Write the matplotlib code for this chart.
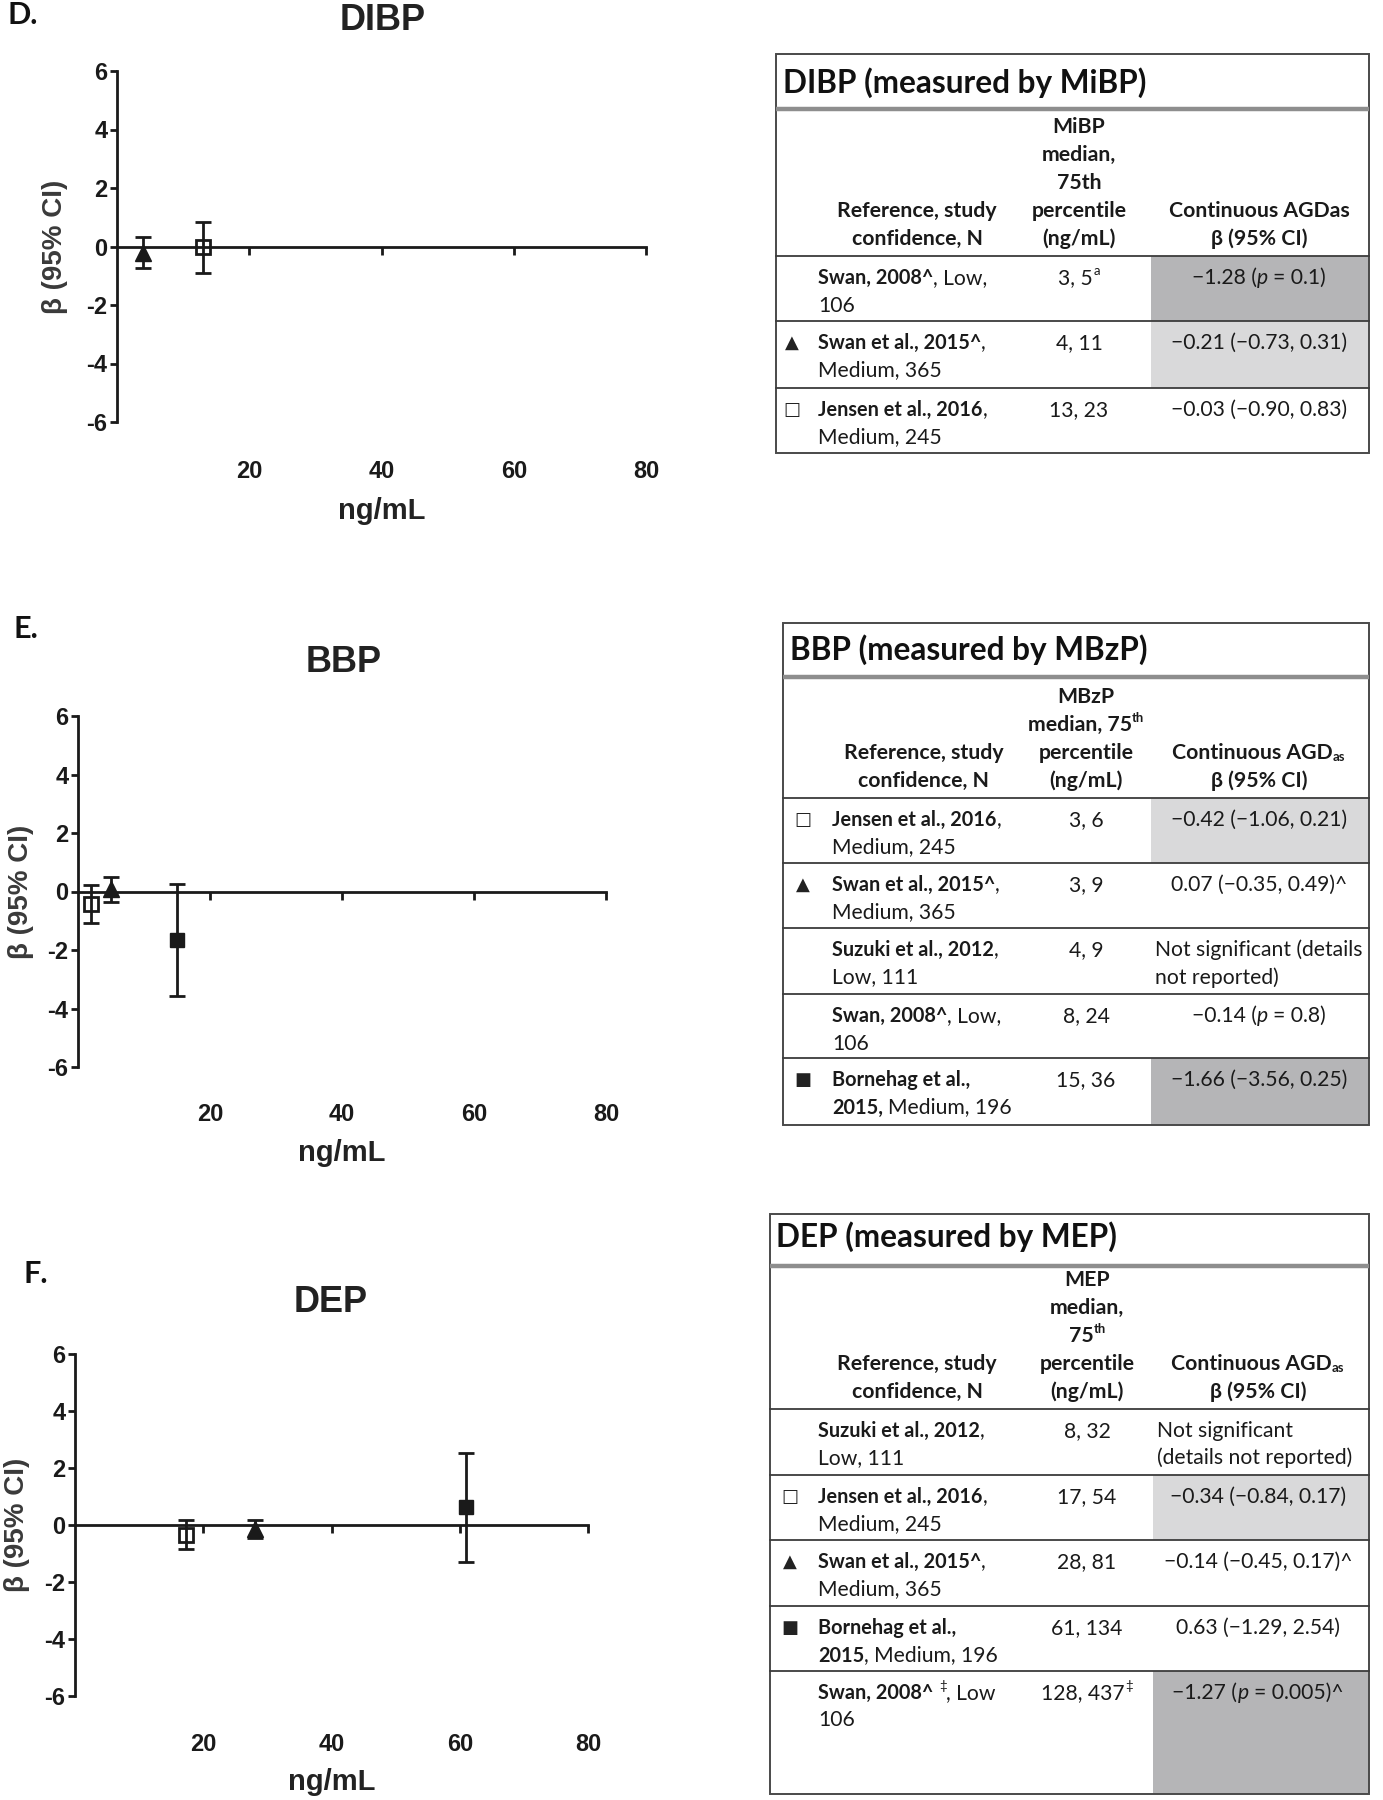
import matplotlib
matplotlib.use('agg')
import matplotlib.pyplot as plt
from matplotlib.patches import Rectangle

plt.rcParams['axes.unicode_minus'] = False

W, H = 1383, 1800
INK = '#1a1a1a'
PLOT_FONT = ['Liberation Sans', 'DejaVu Sans']
TAB_FONT = ['Lato', 'DejaVu Sans']
SHADES = {'dark': '#b5b5b7', 'light': '#d9d9da', '': None}

# ---- plot data: x = median (ng/mL), beta and 95% CI ----
dibp_x = [4, 13]
dibp_beta = [-0.21, -0.03]
dibp_lo = [-0.73, -0.90]
dibp_hi = [0.31, 0.83]
dibp_mark = ['tri', 'open']

bbp_x = [2, 5, 15]
bbp_beta = [-0.42, 0.07, -1.66]
bbp_lo = [-1.06, -0.35, -3.56]
bbp_hi = [0.21, 0.49, 0.25]
bbp_mark = ['open', 'tri', 'filled']

dep_x = [17.3, 28, 61]
dep_beta = [-0.34, -0.14, 0.63]
dep_lo = [-0.84, -0.45, -1.29]
dep_hi = [0.17, 0.17, 2.54]
dep_mark = ['open', 'tri', 'filled']

y_ticks = [-6, -4, -2, 0, 2, 4, 6]
x_ticks = [20, 40, 60, 80]

# ---- table data ----
head_ref = [[("Reference, study", 'b')], [("confidence, N", 'b')]]

dibp_title = "DIBP (measured by MiBP)"
dibp_head_conc = [[("MiBP", 'b')], [("median,", 'b')], [("75th", 'b')],
                  [("percentile", 'b')], [("(ng/mL)", 'b')]]
dibp_head_beta = [[("Continuous AGDas", 'b')], [("β (95% CI)", 'b')]]
dibp_sym = ['', '▲', '□']
dibp_refs = [
    [[("Swan, 2008^", 'b'), (", Low,", 'r')], [("106", 'r')]],
    [[("Swan et al., 2015^", 'b'), (",", 'r')], [("Medium, 365", 'r')]],
    [[("Jensen et al., 2016", 'b'), (",", 'r')], [("Medium, 245", 'r')]],
]
dibp_conc = [[("3, 5", 'r'), ("a", 'sup')], [("4, 11", 'r')], [("13, 23", 'r')]]
dibp_betatxt = [
    ([[("−1.28 (", 'r'), ("p", 'i'), (" = 0.1)", 'r')]], 'center'),
    ([[("−0.21 (−0.73, 0.31)", 'r')]], 'center'),
    ([[("−0.03 (−0.90, 0.83)", 'r')]], 'center'),
]
dibp_shade = ['dark', 'light', '']

bbp_title = "BBP (measured by MBzP)"
bbp_head_conc = [[("MBzP", 'b')], [("median, 75", 'b'), ("th", 'supb')],
                 [("percentile", 'b')], [("(ng/mL)", 'b')]]
bbp_head_beta = [[("Continuous AGD", 'b'), ("as", 'subb')], [("β (95% CI)", 'b')]]
bbp_sym = ['□', '▲', '', '', '■']
bbp_refs = [
    [[("Jensen et al., 2016", 'b'), (",", 'r')], [("Medium, 245", 'r')]],
    [[("Swan et al., 2015^", 'b'), (",", 'r')], [("Medium, 365", 'r')]],
    [[("Suzuki et al., 2012", 'b'), (",", 'r')], [("Low, 111", 'r')]],
    [[("Swan, 2008^", 'b'), (", Low,", 'r')], [("106", 'r')]],
    [[("Bornehag et al.,", 'b')], [("2015,", 'b'), (" Medium, 196", 'r')]],
]
bbp_conc = [[("3, 6", 'r')], [("3, 9", 'r')], [("4, 9", 'r')], [("8, 24", 'r')], [("15, 36", 'r')]]
bbp_betatxt = [
    ([[("−0.42 (−1.06, 0.21)", 'r')]], 'center'),
    ([[("0.07 (−0.35, 0.49)^", 'r')]], 'center'),
    ([[("Not significant (details", 'r')], [("not reported)", 'r')]], 'left'),
    ([[("−0.14 (", 'r'), ("p", 'i'), (" = 0.8)", 'r')]], 'center'),
    ([[("−1.66 (−3.56, 0.25)", 'r')]], 'center'),
]
bbp_shade = ['light', '', '', '', 'dark']

dep_title = "DEP (measured by MEP)"
dep_head_conc = [[("MEP", 'b')], [("median,", 'b')], [("75", 'b'), ("th", 'supb')],
                 [("percentile", 'b')], [("(ng/mL)", 'b')]]
dep_head_beta = [[("Continuous AGD", 'b'), ("as", 'subb')], [("β (95% CI)", 'b')]]
dep_sym = ['', '□', '▲', '■', '']
dep_refs = [
    [[("Suzuki et al., 2012", 'b'), (",", 'r')], [("Low, 111", 'r')]],
    [[("Jensen et al., 2016", 'b'), (",", 'r')], [("Medium, 245", 'r')]],
    [[("Swan et al., 2015^", 'b'), (",", 'r')], [("Medium, 365", 'r')]],
    [[("Bornehag et al.,", 'b')], [("2015", 'b'), (", Medium, 196", 'r')]],
    [[("Swan, 2008^", 'b'), (" ‡", 'sup'), (", Low", 'r')], [("106", 'r')]],
]
dep_conc = [[("8, 32", 'r')], [("17, 54", 'r')], [("28, 81", 'r')], [("61, 134", 'r')],
            [("128, 437", 'r'), ("‡", 'sup')]]
dep_betatxt = [
    ([[("Not significant", 'r')], [("(details not reported)", 'r')]], 'left'),
    ([[("−0.34 (−0.84, 0.17)", 'r')]], 'center'),
    ([[("−0.14 (−0.45, 0.17)^", 'r')]], 'center'),
    ([[("0.63 (−1.29, 2.54)", 'r')]], 'center'),
    ([[("−1.27 (", 'r'), ("p", 'i'), (" = 0.005)^", 'r')]], 'center'),
]
dep_shade = ['', 'light', '', '', 'dark']


fig = plt.figure(figsize=(W / 100, H / 100), dpi=100)
ov = fig.add_axes([0, 0, 1, 1])
ov.set_xlim(0, W)
ov.set_ylim(H, 0)
ov.axis('off')
rend = fig.canvas.get_renderer()

SIZE_R = 15.2   # regular body text
SIZE_B = 14.3   # bold body text
SIZE_H = 15.3   # bold header text


def style_kw(code, size_r, size_b):
    bold = code in ('b', 'supb', 'subb')
    kw = dict(fontsize=size_b if bold else size_r, family=TAB_FONT, color=INK)
    if bold:
        kw['fontweight'] = 'bold'
    if code == 'i':
        kw['fontstyle'] = 'italic'
    if code in ('sup', 'supb', 'sub', 'subb'):
        kw['fontsize'] = kw['fontsize'] * 0.62
    return kw


def text_w(t):
    return t.get_window_extent(renderer=rend).width


def space_w(size):
    a = ov.text(0, 0, "a a", fontsize=size, family=TAB_FONT)
    b = ov.text(0, 0, "aa", fontsize=size, family=TAB_FONT)
    w = text_w(a) - text_w(b)
    a.remove()
    b.remove()
    return w


SP = space_w(SIZE_R)


def runs(x, y, parts, ha='left', size_r=SIZE_R, size_b=SIZE_B):
    spx = size_r * 100 / 72
    items = []
    total = 0
    for s, code in parts:
        lead = (len(s) - len(s.lstrip(' '))) * SP
        s = s.strip(' ')
        dy = 0
        if code in ('sup', 'supb'):
            dy = -0.42 * spx
        elif code in ('sub', 'subb'):
            dy = 0.08 * spx
        t = ov.text(0, y + dy, s, va='baseline', ha='left', **style_kw(code, size_r, size_b))
        w = text_w(t)
        items.append((t, total + lead))
        total += lead + w
    x0 = x - total / 2 if ha == 'center' else x
    for t, off in items:
        t.set_x(x0 + off)


def table(x0, x1, ys, title, title_xy, cols, head_conc, head_beta,
          syms, refs, conc, betas, shades):
    top, t_bot, h_bot = ys[0], ys[1], ys[2]
    rows = ys[2:]
    # shaded cells
    for i, sh in enumerate(shades):
        if SHADES[sh]:
            ov.add_patch(Rectangle((cols['shade'], rows[i]), x1 - cols['shade'],
                                   rows[i + 1] - rows[i], fc=SHADES[sh], ec='none'))
    ov.add_patch(Rectangle((x0, top), x1 - x0, rows[-1] - top, fc='none',
                           ec='#4a4a4a', lw=1.4))
    ov.plot([x0, x1], [t_bot, t_bot], color='#8e8e8e', lw=3.2, solid_capstyle='butt')
    for r in rows[:-1]:
        ov.plot([x0, x1], [r, r], color='#3c3c3c', lw=1.3)
    ov.text(title_xy[0], title_xy[1], title, fontsize=22.7, fontweight='bold',
            family=TAB_FONT, color='#111111', va='center', ha='left')

    # header, bottom aligned
    base = h_bot - 11
    for lines, cx in ((head_ref, cols['head_ref']), (head_conc, cols['conc']),
                      (head_beta, cols['beta'])):
        n = len(lines)
        for k, line in enumerate(lines):
            runs(cx, base - (n - 1 - k) * 28, line, ha='center', size_b=SIZE_H)

    for i in range(len(refs)):
        rt = rows[i]
        b1 = rt + 28
        if syms[i]:
            ov.text(cols['sym'], rt + 22, syms[i], fontsize=13, family='DejaVu Sans',
                    fontweight='bold', color='#222222', ha='center', va='center')
        for k, line in enumerate(refs[i]):
            runs(cols['ref'], b1 + k * 27.5, line)
        runs(cols['conc'], b1, conc[i], ha='center')
        lines, ha = betas[i]
        for k, line in enumerate(lines):
            if ha == 'center':
                runs(cols['beta'], b1 + k * 27.5, line, ha='center')
            else:
                runs(cols['shade'] + 4, b1 + k * 27.5, line)


def panel(box, xs, beta, lo, hi, marks, title, title_xy, ylab_x, tick_pad, xlab_y):
    left, right, top, bottom = box
    ax = fig.add_axes([left / W, 1 - bottom / H, (right - left) / W, (bottom - top) / H])
    ax.set_xlim(0, 80)
    ax.set_ylim(-6, 6)
    for s in ('top', 'right'):
        ax.spines[s].set_visible(False)
    ax.spines['bottom'].set_position(('data', 0))
    ax.spines['left'].set_linewidth(2.0)
    ax.spines['bottom'].set_linewidth(2.0)
    ax.spines['left'].set_color(INK)
    ax.spines['bottom'].set_color(INK)
    ax.set_yticks(y_ticks)
    ax.set_xticks(x_ticks)
    ax.tick_params(axis='y', direction='out', length=5, width=2, color=INK, pad=2,
                   labelsize=17, labelcolor=INK)
    ax.tick_params(axis='x', direction='out', length=6, width=2, color=INK,
                   pad=tick_pad, labelsize=17, labelcolor=INK)
    for lab in ax.get_xticklabels() + ax.get_yticklabels():
        lab.set_family(PLOT_FONT)
        lab.set_fontweight('bold')
    styles = {'tri': dict(marker='^', ms=11, mfc=INK, mec=INK),
              'open': dict(marker='s', ms=9.5, mfc='none', mec=INK, mew=2),
              'filled': dict(marker='s', ms=9.5, mfc=INK, mec=INK)}
    for x, b, l, h, m in zip(xs, beta, lo, hi, marks):
        ax.errorbar([x], [b], yerr=[[b - l], [h - b]], fmt='none', ecolor=INK,
                    elinewidth=2, capsize=6, capthick=2, zorder=3, clip_on=False)
        ax.plot([x], [b], linestyle='none', zorder=4, clip_on=False, **styles[m])
    # panel title placed in pixel space
    fig.text(title_xy[0] / W, 1 - title_xy[1] / H, title, fontsize=26, fontweight='bold',
             family=PLOT_FONT, color='#222222', ha='center', va='center')
    ax.set_ylabel("β (95% CI)", fontsize=20, fontweight='bold', family=PLOT_FONT,
                  color='#3a3a3a')
    ax.yaxis.set_label_coords(ylab_x, 0.5)
    ax.yaxis.label.set_va('center')
    ax.set_xlabel("ng/mL", fontsize=21, fontweight='bold', family=PLOT_FONT, color='#222222')
    ax.xaxis.set_label_coords(0.5, xlab_y)
    ax.xaxis.label.set_va('center')
    return ax


# panel D
panel((117, 646, 71, 422), dibp_x, dibp_beta, dibp_lo, dibp_hi, dibp_mark,
      "DIBP", (383, 20), (55 - 117) / 529, 148, -0.254)
fig.text(8 / W, 1 - 15 / H, "D.", fontsize=22, fontweight='bold', family=TAB_FONT,
         color='#111111', va='center')
table(776, 1369, [54, 109, 256, 321, 388, 453], dibp_title, (783, 83),
      dict(sym=792, ref=818, head_ref=917, conc=1079, beta=1259, shade=1151),
      dibp_head_conc, dibp_head_beta, dibp_sym, dibp_refs, dibp_conc, dibp_betatxt,
      dibp_shade)

# panel E
panel((78, 606, 716, 1067), bbp_x, bbp_beta, bbp_lo, bbp_hi, bbp_mark,
      "BBP", (344, 662), (21 - 78) / 528, 146, -0.245)
fig.text(14 / W, 1 - 629 / H, "E.", fontsize=22, fontweight='bold', family=TAB_FONT,
         color='#111111', va='center')
table(783, 1369, [623, 677, 798, 863, 928, 994, 1058, 1125], bbp_title, (790, 650),
      dict(sym=803, ref=832, head_ref=924, conc=1086, beta=1259, shade=1151),
      bbp_head_conc, bbp_head_beta, bbp_sym, bbp_refs, bbp_conc, bbp_betatxt,
      bbp_shade)

# panel F
panel((75, 588, 1354, 1696), dep_x, dep_beta, dep_lo, dep_hi, dep_mark,
      "DEP", (331, 1303), (17 - 75) / 513, 144, -0.251)
fig.text(24 / W, 1 - 1274 / H, "F.", fontsize=22, fontweight='bold', family=TAB_FONT,
         color='#111111', va='center')
table(770, 1369, [1214, 1266, 1409, 1475, 1540, 1606, 1671, 1794], dep_title, (776, 1237),
      dict(sym=790, ref=818, head_ref=917, conc=1087, beta=1258, shade=1153),
      dep_head_conc, dep_head_beta, dep_sym, dep_refs, dep_conc, dep_betatxt,
      dep_shade)

fig.savefig("out.png", dpi=100)
